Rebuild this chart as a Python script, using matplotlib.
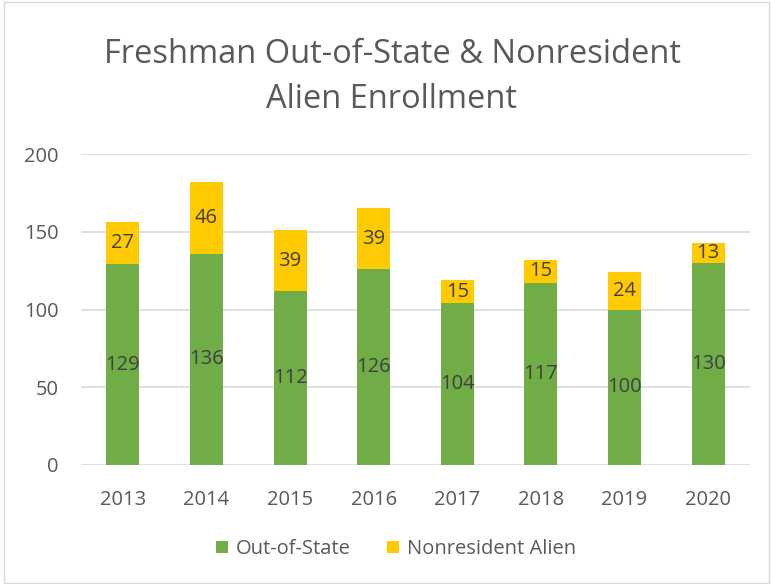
import matplotlib
matplotlib.use("Agg")
import matplotlib.pyplot as plt
from matplotlib.patches import Rectangle

years = ["2013", "2014", "2015", "2016", "2017", "2018", "2019", "2020"]
out_of_state = [129, 136, 112, 126, 104, 117, 100, 130]
nonresident = [27, 46, 39, 39, 15, 15, 24, 13]
yticks = [0, 50, 100, 150, 200]

plt.rcParams['font.family'] = ['Open Sans', 'DejaVu Sans']
GREEN = "#70AD47"
YELLOW = "#FFCA00"
TXT = "#595959"
LBL = "#404040"

W, H = 771, 584
fig = plt.figure(figsize=(W/100, H/100), dpi=100)
fig.patches.append(Rectangle((4/W, 1/H), (W-6)/W, (H-3)/H, transform=fig.transFigure,
                             fill=False, edgecolor="#D9D9D9", linewidth=1))

ax = fig.add_axes([81/W, 1-465/H, (750-81)/W, (465-154)/H])
x = list(range(len(years)))
bw = 0.395
ax.bar(x, out_of_state, width=bw, color=GREEN, label="Out-of-State", zorder=3)
ax.bar(x, nonresident, width=bw, bottom=out_of_state, color=YELLOW, label="Nonresident Alien", zorder=3)

for i in x:
    ax.text(i, out_of_state[i]/2, str(out_of_state[i]), ha="center", va="center",
            fontsize=14.5, color=LBL, zorder=4)
    ax.text(i, out_of_state[i] + nonresident[i]/2, str(nonresident[i]), ha="center", va="center",
            fontsize=14.5, color=LBL, zorder=4)

ax.set_xlim(-0.5, len(years) - 0.5)
ax.set_ylim(0, 200)
ax.set_yticks(yticks)
ax.set_xticks(x)
ax.set_xticklabels(years)
ax.tick_params(axis="both", length=0, labelsize=14.5, labelcolor=TXT)
ax.tick_params(axis="y", pad=16)
ax.tick_params(axis="x", pad=18)
ax.grid(axis="y", color="#D9D9D9", linewidth=1.2, zorder=0)
for s in ax.spines.values():
    s.set_visible(False)

fig.text(392/W, 1-77/H, "Freshman Out-of-State & Nonresident\nAlien Enrollment",
         ha="center", va="center", fontsize=23.5, color=TXT, linespacing=1.45)

leg = fig.legend(loc="center", bbox_to_anchor=(396/W, 1-549/H), ncol=2, frameon=False,
                 fontsize=14.5, handlelength=0.6, handleheight=0.6, columnspacing=1.8,
                 handletextpad=0.4)
for t in leg.get_texts():
    t.set_color(TXT)

fig.savefig("out.png", dpi=100)
